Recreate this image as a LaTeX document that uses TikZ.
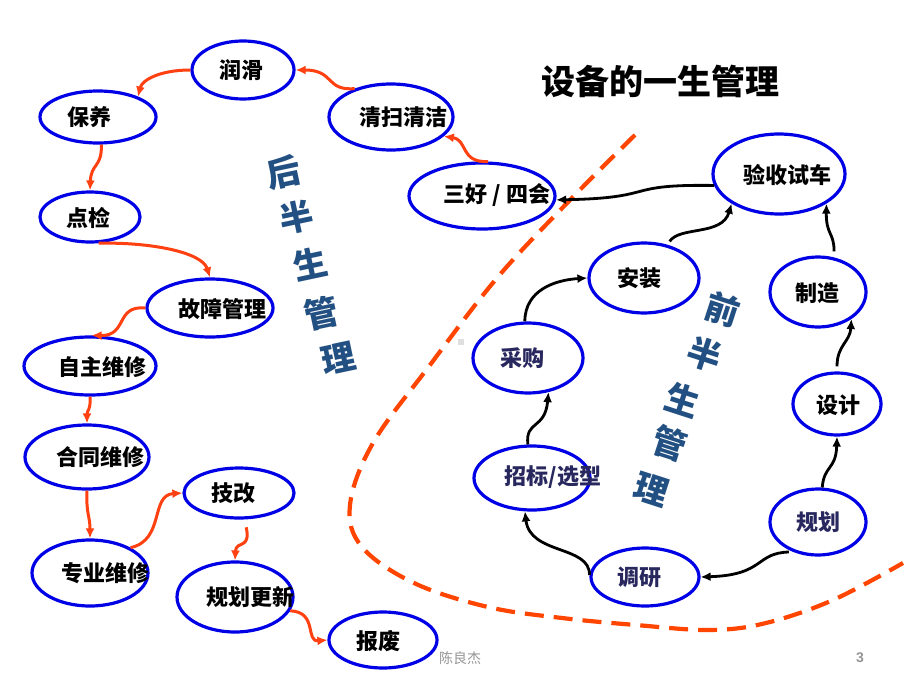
\documentclass[tikz,border=0pt]{standalone}
\usepackage{fontspec}
\newfontfamily\cjk{Noto Sans CJK SC}
\newfontfamily\arialf{Liberation Sans}
\usetikzlibrary{arrows.meta,shapes.geometric}
\definecolor{ellblue}{RGB}{0,0,230}
\definecolor{conred}{RGB}{255,64,16}
\definecolor{dashred}{RGB}{255,69,0}
\definecolor{vblue}{RGB}{35,80,130}
\definecolor{navy}{RGB}{40,40,95}
\definecolor{footgrey}{RGB}{150,150,150}
\begin{document}
\begin{tikzpicture}[x=1pt,y=-1pt,
  ell/.style={draw=ellblue,line width=3.2pt,ellipse,inner sep=0pt},
  tx/.style={inner sep=0pt,font=\cjk\bfseries\fontsize{22}{22}\selectfont,text=black},
  txn/.style={tx,text=navy},
  vch/.style={inner sep=0pt,font=\cjk\bfseries\fontsize{34}{34}\selectfont,text=vblue},
  rcon/.style={draw=conred,line width=3pt,-{Latex[length=10pt,width=9pt]}},
  bcon/.style={draw=black,line width=2.8pt,-{Latex[length=10pt,width=9pt]}},
  dashline/.style={draw=dashred,line width=4.2pt,dash pattern=on 19pt off 10pt}
]
\useasboundingbox (0,0) rectangle (920,690);
\fill[white] (0,0) rectangle (920,690);

% dashed separator
\draw[dashline] plot[smooth,tension=0.6] coordinates {(635,135) (570,200) (497,278) (430,365) (373,443) (350,505) (362,547) (414,583) (488,607) (562,618) (636,625) (710,630) (766,623) (833,600) (903,563)};
\fill[gray!25] (458,339) rectangle (464,345);

% title
\node[inner sep=0pt,font=\cjk\bfseries\fontsize{34}{34}\selectfont] (title) at (660,81) {设备的一生管理};

% left ellipses
\node[ell,minimum width=102pt,minimum height=58pt] (rh) at (243,70) {};
\node[ell,minimum width=116pt,minimum height=52pt] (by) at (98,117) {};
\node[ell,minimum width=124pt,minimum height=66pt] (qs) at (391,117) {};
\node[ell,minimum width=146pt,minimum height=66pt] (sh) at (482,196) {};
\node[ell,minimum width=100pt,minimum height=50pt] (dj) at (90,217) {};
\node[ell,minimum width=126pt,minimum height=58pt] (gz) at (210,308) {};
\node[ell,minimum width=132pt,minimum height=58pt] (zz) at (90,366) {};
\node[ell,minimum width=124pt,minimum height=64pt] (ht) at (87,457) {};
\node[ell,minimum width=110pt,minimum height=50pt] (jg) at (239,493) {};
\node[ell,minimum width=116pt,minimum height=66pt] (zy) at (90,573) {};
\node[ell,minimum width=116pt,minimum height=70pt] (gh) at (235,597) {};
\node[ell,minimum width=108pt,minimum height=56pt] (bf) at (383,640) {};

% right ellipses
\node[ell,minimum width=132pt,minimum height=80pt] (ys) at (779,174) {};
\node[ell,minimum width=110pt,minimum height=70pt] (az) at (644,278) {};
\node[ell,minimum width=96pt,minimum height=70pt] (zc) at (818,292) {};
\node[ell,minimum width=110pt,minimum height=70pt] (cg) at (528,358) {};
\node[ell,minimum width=88pt,minimum height=62pt] (sj) at (837,404) {};
\node[ell,minimum width=116pt,minimum height=64pt] (zb) at (532,478) {};
\node[ell,minimum width=108pt,minimum height=58pt] (dy) at (645,577) {};
\node[ell,minimum width=96pt,minimum height=66pt] (gx) at (818,522) {};

% texts
\node[tx] (rhT) at (241,70) {润滑};
\node[tx] (byT) at (89,117) {保养};
\node[tx] (qsT) at (403,117) {清扫清洁};
\node[tx] (shT) at (497,195) {三好 / 四会};
\node[tx] (djT) at (88,218) {点检};
\node[tx] (gzT) at (222,309) {故障管理};
\node[tx] (zzT) at (102,367) {自主维修};
\node[tx] (htT) at (100,457) {合同维修};
\node[tx] (jgT) at (233,493) {技改};
\node[tx] (zyT) at (105,573) {专业维修};
\node[tx] (ghT) at (250,597) {规划更新};
\node[tx] (bfT) at (378,641) {报废};
\node[tx] (ysT) at (787,175) {验收试车};
\node[tx] (azT) at (639,278) {安装};
\node[tx] (zcT) at (817,293) {制造};
\node[txn] (cgT) at (522,358) {采购};
\node[tx] (sjT) at (838,405) {设计};
\node[txn] (zbT) at (553,477) {招标/选型};
\node[txn] (dyT) at (639,577) {调研};
\node[txn] (gxT) at (818,522) {规划};

% vertical labels
\node[vch,rotate=12] (h1) at (283,172) {后};
\node[vch,rotate=12] (h2) at (296,217) {半};
\node[vch,rotate=12] (h3) at (310,264) {生};
\node[vch,rotate=12] (h4) at (321,313) {管};
\node[vch,rotate=12] (h5) at (338,358) {理};
\node[vch,rotate=-18] (q1) at (723,309) {前};
\node[vch,rotate=-18] (q2) at (705,354) {半};
\node[vch,rotate=-18] (q3) at (683,400) {生};
\node[vch,rotate=-18] (q4) at (670,443) {管};
\node[vch,rotate=-18] (q5) at (652,490) {理};

% red connectors
\draw[rcon] (qs.142) .. controls (325,91) and (335,70) .. (rh.east);
\draw[rcon] (rh.west) .. controls (160,70) and (142,80) .. (by.27);
\draw[rcon] (by.-83) .. controls (102,168) and (91,163) .. (dj.north);
\draw[rcon] (dj.-72) .. controls (150,242) and (202,252) .. (gz.north);
\draw[rcon] (gz.west) .. controls (115,305) and (128,336) .. (zz.87);
\draw[rcon] (zz.south) .. controls (91,410) and (87,410) .. (ht.north);
\draw[rcon] (ht.south) .. controls (86,515) and (90,515) .. (zy.north);
\draw[rcon] (zy.32) .. controls (165,540) and (150,495) .. (jg.west);
\draw[rcon,shorten <=8pt] (jg.-78) .. controls (251,550) and (236,540) .. (gh.north);
\draw[rcon] (gh.-14) .. controls (318,612) and (305,642) .. (bf.west);
\draw[rcon] (sh.80) .. controls (460,163) and (468,140) .. (qs.-20);

% black connectors
\draw[bcon] (ys.190) .. controls (620,184) and (660,198) .. (sh.-3);
\draw[bcon,shorten <=4pt] (az.55) .. controls (680,226) and (722,236) .. (ys.212);
\draw[bcon,shorten <=6pt] (zc.65) .. controls (834,232) and (826,235) .. (ys.-32);
\draw[bcon] (cg.95) .. controls (525,290) and (555,280) .. (az.west);
\draw[bcon,shorten <=5pt] (sj.north) .. controls (837,345) and (850,342) .. (zc.-39);
\draw[bcon] (zb.97) .. controls (525,420) and (545,430) .. (cg.-59);
\draw[bcon] (gx.83) .. controls (824,465) and (836,470) .. (sj.south);
\draw[bcon,shorten <=4pt] (gx.230) .. controls (755,553) and (765,575) .. (dy.east);
\draw[bcon] (dy.178) .. controls (590,545) and (530,555) .. (zb.258);

% footer
\node[inner sep=0pt,font=\cjk\fontsize{14}{14}\selectfont,text=footgrey] (ft) at (460,658) {陈良杰};
\node[inner sep=0pt,font=\arialf\bfseries\fontsize{14}{14}\selectfont,text=footgrey] (pg) at (860,658) {3};
\end{tikzpicture}
\end{document}
